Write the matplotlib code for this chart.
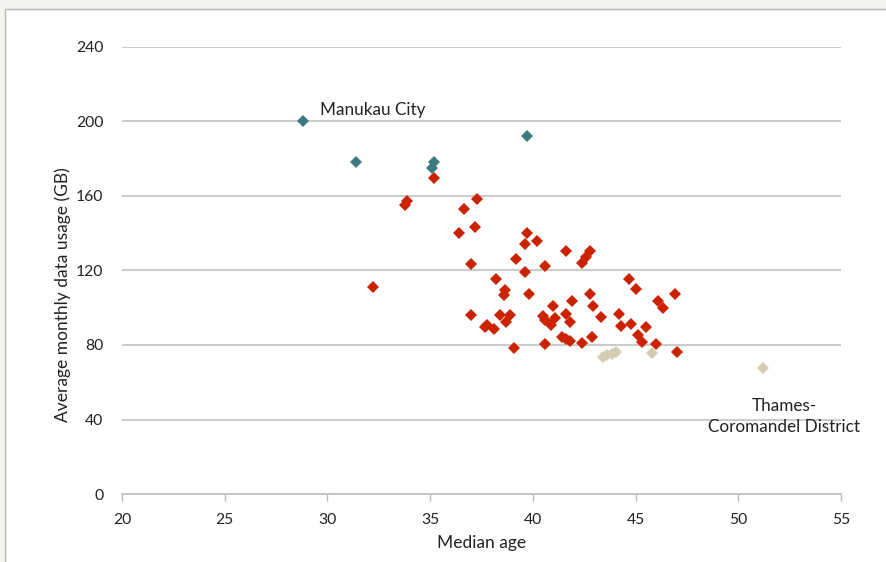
"""
Median age vs average monthly data usage scatter
"""

import matplotlib
matplotlib.use('Agg')
import matplotlib.pyplot as plt
from matplotlib.patches import Rectangle

plt.rcParams['font.family'] = ['Lato', 'DejaVu Sans']

# 数据：三组点（蓝绿 / 红 / 米色）
teal_age = [28.8, 31.4, 35.2, 35.1, 39.7]
teal_usage = [200, 178, 178.5, 175, 192]

red_age = [35.2, 33.85, 33.8, 37.3, 36.65, 37.2, 36.4, 39.7, 39.6, 40.2,
           37.0, 39.2, 39.6, 40.6, 32.2, 38.2, 38.65, 38.6, 39.8, 41.6,
           42.8, 42.6, 42.4, 37.0, 37.75, 37.65, 38.1, 38.4, 38.9, 38.7,
           39.1, 41.0, 41.9, 40.5, 40.6, 41.1, 40.9, 41.6, 41.8, 40.6,
           41.4, 41.6, 41.8, 42.4, 42.9, 42.8, 42.95, 43.3, 44.2, 44.3,
           44.7, 45.0, 44.8, 45.1, 45.3, 45.5, 46.0, 46.1, 46.35, 46.9,
           47.0]
red_usage = [169.5, 157.5, 155, 158.5, 153, 143.5, 140, 140, 134.3, 136,
             123.4, 126, 119.4, 122.3, 111, 115.4, 109.3, 107, 107.3, 130.3,
             130.5, 127.3, 124, 96.1, 90.8, 89.5, 88.6, 96.2, 96.2, 92.4,
             78.6, 101, 103.5, 95.4, 93.4, 94.3, 90.5, 96.4, 92.5, 80.4,
             84.5, 83.4, 82.3, 81.3, 84.3, 107.4, 101.1, 95.2, 96.5, 90.4,
             115.4, 110.1, 91.5, 85.2, 81.4, 89.5, 80.3, 103.6, 100, 107.3,
             76.5]

beige_age = [43.4, 43.6, 43.85, 44.05, 45.8, 51.2]
beige_usage = [73.6, 74.6, 75.4, 76.3, 75.5, 67.5]

x_ticks = [20, 25, 30, 35, 40, 45, 50, 55]
y_ticks = [0, 40, 80, 120, 160, 200, 240]

figure = plt.figure(figsize=(8.87, 5.62), dpi=100, facecolor='#f5f5f0')
panel = Rectangle((5 / 887, -0.1), 1.2, 1 - 9 / 562 + 0.1,
                  transform=figure.transFigure, facecolor='white',
                  edgecolor='#b4b4b4', linewidth=1.0, zorder=-10)
figure.add_artist(panel)

ax = figure.add_axes([122 / 887, 1 - 494 / 562, 719 / 887, 447 / 562])
ax.set_zorder(1)
ax.set_facecolor('none')

for y in y_ticks[1:]:
    ax.axhline(y, color='#cccccc', linewidth=1.5, zorder=1)

ax.plot(red_age, red_usage, 'D', color='#cc2200', markersize=6.5, markeredgewidth=0, zorder=3)
ax.plot(beige_age, beige_usage, 'D', color='#d3ccb0', markersize=6.5, markeredgewidth=0, zorder=3)
ax.plot(teal_age, teal_usage, 'D', color='#3a7a80', markersize=6.5, markeredgewidth=0, zorder=3)

ax.text(29.65, 206, 'Manukau City', fontsize=12.3, ha='left', va='center', color='#222222')
ax.text(52.23, 41.6, 'Thames-\nCoromandel District', fontsize=12.3, ha='center', va='center',
        color='#222222', linespacing=1.45)

ax.set_xlim(20, 55)
ax.set_ylim(0, 240)
ax.set_xticks(x_ticks)
ax.set_yticks(y_ticks)

for side in ['top', 'right', 'left']:
    ax.spines[side].set_visible(False)
ax.spines['bottom'].set_color('#bbbbbb')
ax.spines['bottom'].set_linewidth(1.2)

ax.tick_params(axis='x', length=5, width=1, color='#bbbbbb', labelsize=11.3, pad=8.5, labelcolor='#222222')
ax.tick_params(axis='y', length=0, labelsize=11.3, pad=13.5, labelcolor='#222222')

ax.text(0.5, -0.1096, 'Median age', transform=ax.transAxes, fontsize=12.5,
        ha='center', va='center', color='#222222')
ax.text(-0.0825, 0.445, 'Average monthly data usage (GB)', transform=ax.transAxes,
        fontsize=12.5, rotation=90, ha='center', va='center', color='#222222')

plt.savefig('out.png', dpi=100, facecolor=figure.get_facecolor())
plt.close(figure)
